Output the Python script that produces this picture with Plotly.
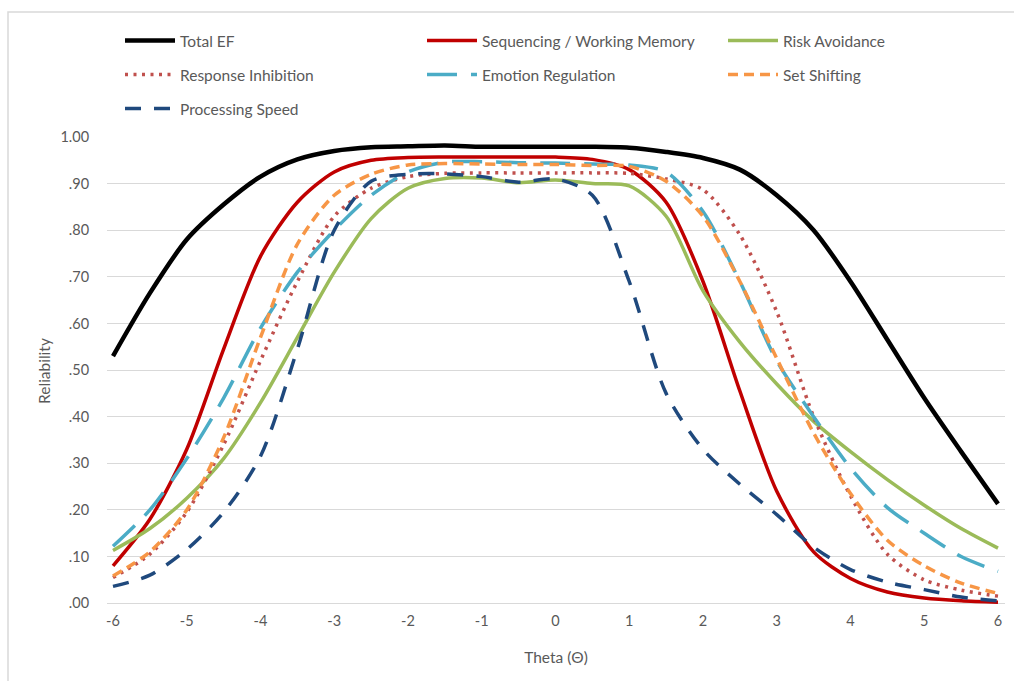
import plotly.graph_objects as go

theta = [-6, -5.5, -5, -4.5, -4, -3.5, -3, -2.5, -2, -1.5, -1, -0.5, 0,
         0.5, 1, 1.5, 2, 2.5, 3, 3.5, 4, 4.5, 5, 5.5, 6]

total_ef = [.530, .665, .780, .855, .915, .952, .970, .978, .980, .982, .979, .979, .979,
            .979, .977, .968, .955, .930, .875, .800, .690, .565, .440, .325, .213]
seq_wm = [.080, .180, .330, .545, .744, .860, .925, .950, .956, .957, .957, .957, .957,
          .952, .930, .860, .690, .455, .240, .110, .053, .024, .011, .005, .002]
risk_av = [.113, .160, .225, .310, .430, .570, .710, .825, .890, .911, .912, .902, .908,
           .900, .895, .830, .670, .560, .470, .390, .325, .265, .210, .160, .118]
resp_inh = [.055, .105, .195, .340, .520, .690, .830, .890, .915, .922, .923, .923, .923,
            .923, .922, .910, .887, .790, .625, .400, .230, .105, .050, .028, .015]
emo_reg = [.122, .200, .310, .440, .590, .710, .800, .875, .925, .946, .947, .945, .944,
           .942, .940, .925, .840, .690, .520, .400, .290, .205, .150, .100, .068]
set_shift = [.058, .110, .200, .355, .570, .770, .875, .920, .940, .943, .942, .941, .941,
             .939, .937, .905, .830, .690, .525, .365, .235, .135, .080, .043, .021]
proc_speed = [.036, .060, .115, .195, .315, .545, .800, .905, .920, .921, .915, .903, .910,
              .875, .690, .450, .330, .255, .190, .120, .072, .045, .029, .013, .005]

y_tickvals = [0, .1, .2, .3, .4, .5, .6, .7, .8, .9, 1.0]
y_ticktext = [".00", ".10", ".20", ".30", ".40", ".50", ".60", ".70", ".80", ".90", "1.00"]
x_tickvals = [-6, -5, -4, -3, -2, -1, 0, 1, 2, 3, 4, 5, 6]

series = [
    ("Total EF", total_ef, "#000000", 4.5, "solid"),
    ("Sequencing / Working Memory", seq_wm, "#C00000", 3.5, "solid"),
    ("Risk Avoidance", risk_av, "#9BBB59", 3.5, "solid"),
    ("Response Inhibition", resp_inh, "#C0504D", 3.5, "3px,5.5px"),
    ("Emotion Regulation", emo_reg, "#4BACC6", 3.5, "30px,14px"),
    ("Set Shifting", set_shift, "#F79646", 3.5, "10px,6px"),
    ("Processing Speed", proc_speed, "#1F497D", 3.5, "16px,13px"),
]

W, H = 1014, 681
l, r, t, b = 107, W - 1005, 137, H - 605
pw, ph = W - l - r, H - t - b

# legend slots (text left x, row center y) in pixels
leg_pos = [(180, 41), (482, 41), (783, 41), (180, 75), (482, 75), (783, 75), (180, 109)]
ITEM_W = 50

fig = go.Figure()
legend_names = ["legend", "legend2", "legend3", "legend4", "legend5", "legend6", "legend7"]
for i, (name, vals, color, w, dash) in enumerate(series):
    fig.add_trace(go.Scatter(
        x=theta, y=vals, mode="lines", name=name,
        line=dict(color=color, width=w, dash=dash, shape="spline", smoothing=0.8),
        legend=legend_names[i], hoverinfo="x+y+name",
    ))

txt = "#595959"
font_family = "Lato"
layout_legends = {}
for i, ln in enumerate(legend_names):
    px, py = leg_pos[i]
    layout_legends[ln] = dict(
        x=(px - (ITEM_W + 10) - l) / pw, y=((H - b) - py) / ph,
        xanchor="left", yanchor="middle", bgcolor="rgba(0,0,0,0)",
        itemwidth=ITEM_W,
        font=dict(family=font_family, size=15.5, color=txt),
    )

fig.update_layout(
    width=W, height=H,
    margin=dict(l=l, r=r, t=t, b=b, autoexpand=False),
    paper_bgcolor="white", plot_bgcolor="white",
    font=dict(family=font_family, color=txt, size=14),
    showlegend=True,
    **layout_legends,
    xaxis=dict(
        range=[-6 - 6 / 73.75, -6 + (pw - 6) / 73.75],
        tickvals=x_tickvals, ticktext=[str(v) for v in x_tickvals],
        showgrid=False, zeroline=False, showline=False,
        ticks="outside", ticklen=3, tickcolor="rgba(0,0,0,0)",
        tickfont=dict(size=14.5, color=txt),
        title=dict(text="Theta (Θ)", font=dict(size=15.5, color=txt), standoff=23),
    ),
    yaxis=dict(
        range=[-0.004, 1.0],
        tickvals=y_tickvals, ticktext=y_ticktext,
        showgrid=True, gridcolor="#D9D9D9", gridwidth=1.3,
        zeroline=False, showline=False,
        ticks="outside", ticklen=14, tickcolor="rgba(0,0,0,0)",
        tickfont=dict(size=14.5, color=txt),
        title=dict(text="Reliability", font=dict(size=15.5, color=txt), standoff=6),
    ),
)

# chart area border (extends beyond the picture on the right and bottom)
fig.add_shape(type="rect", xref="paper", yref="paper",
              x0=(8 - l) / pw, x1=(W + 10 - l) / pw,
              y0=-(H + 10 - (H - b)) / ph, y1=((H - b) - 12) / ph,
              line=dict(color="#D9D9D9", width=1.5), fillcolor="rgba(0,0,0,0)",
              layer="below")

fig.write_html("out.html", config={"displayModeBar": False},
               post_script="document.body.style.margin='0';")
